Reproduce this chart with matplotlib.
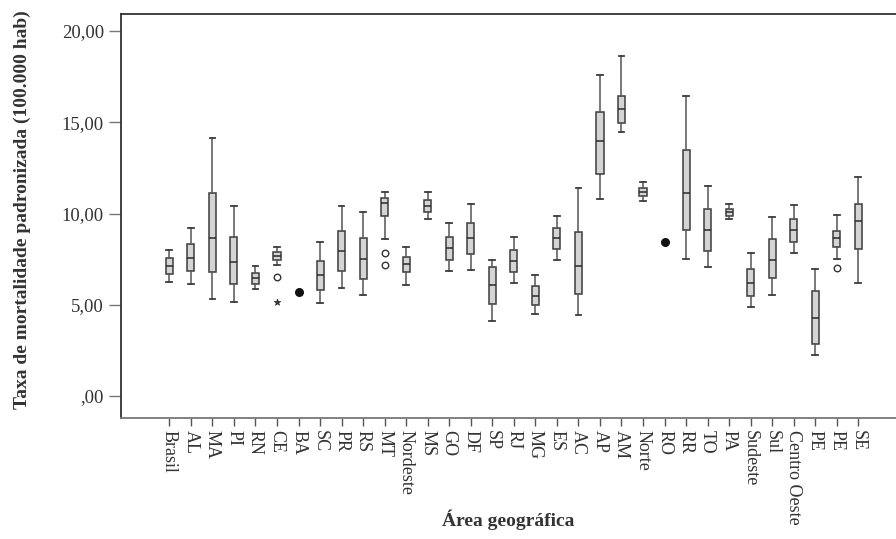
import matplotlib.pyplot as plt
import numpy as np

plt.rcParams['font.family'] = ['Liberation Serif', 'DejaVu Serif']

labels = ['Brasil', 'AL', 'MA', 'PI', 'RN', 'CE', 'BA', 'SC', 'PR', 'RS', 'MT',
          'Nordeste', 'MS', 'GO', 'DF', 'SP', 'RJ', 'MG', 'ES', 'AC', 'AP', 'AM',
          'Norte', 'RO', 'RR', 'TO', 'PA', 'Sudeste', 'Sul', 'Centro Oeste',
          'PE', 'PE', 'SE']

# box statistics (None = single value, no box)
whislo = [6.26, 6.14, 5.33, 5.17, 5.86, 7.20, None, 5.08, 5.90, 5.53, 8.59,
          6.08, 9.72, 6.83, 6.90, 4.13, 6.17, 4.47, 7.47, 4.42, 10.78, 14.45,
          10.70, None, 7.52, 7.07, 9.68, 4.88, 5.55, 7.85, 2.26, 7.49, 6.19]
q1 = [6.67, 6.83, 6.78, 6.16, 6.16, 7.43, None, 5.79, 6.83, 6.41, 9.86,
      6.78, 10.07, 7.45, 7.76, 5.02, 6.78, 4.97, 8.04, 5.61, 12.16, 14.94,
      10.94, None, 9.10, 7.96, 9.86, 5.46, 6.48, 8.46, 2.83, 8.18, 8.05]
med = [7.12, 7.58, 8.68, 7.32, 6.45, 7.67, None, 6.61, 7.95, 7.49, 10.56,
       7.21, 10.39, 8.09, 8.64, 6.06, 7.38, 5.50, 8.64, 7.12, 13.97, 15.71,
       11.18, None, 11.12, 9.08, 10.08, 6.17, 7.45, 9.10, 4.29, 8.66, 9.59]
q3 = [7.54, 8.31, 11.10, 8.70, 6.76, 7.87, None, 7.42, 9.06, 8.64, 10.83,
      7.63, 10.74, 8.71, 9.50, 7.07, 8.02, 6.01, 9.19, 8.99, 15.54, 16.42,
      11.40, None, 13.48, 10.23, 10.26, 6.98, 8.60, 9.70, 5.74, 9.06, 10.54]
whishi = [8.00, 9.19, 14.16, 10.39, 7.12, 8.16, None, 8.42, 10.39, 10.07, 11.16,
          8.14, 11.16, 9.48, 10.54, 7.45, 8.73, 6.61, 9.88, 11.40, 17.57, 18.63,
          11.71, None, 16.42, 11.51, 10.54, 7.84, 9.83, 10.45, 6.98, 9.92, 12.00]

# single values (filled dots)
single_idx = [6, 23]
single_val = [5.70, 8.44]
# outliers (open circles) and extremes (stars)
circle_idx = [5, 10, 10, 31]
circle_val = [6.50, 7.82, 7.20, 7.00]
star_idx = [5]
star_val = [5.13]

stats = []
pos = []
for i in range(len(labels)):
    if med[i] is None:
        continue
    stats.append({'whislo': whislo[i], 'q1': q1[i], 'med': med[i],
                  'q3': q3[i], 'whishi': whishi[i], 'fliers': []})
    pos.append(i)

fig = plt.figure(figsize=(8.96, 5.39), dpi=100)
ax = fig.add_axes([0.1347, 0.225, 0.8653, 0.7485])

ax.bxp(stats, positions=pos, widths=0.33, patch_artist=True, showfliers=False,
       capwidths=0.27,
       boxprops=dict(facecolor='#d4d4d4', edgecolor='#3c3c3c', linewidth=1.1),
       medianprops=dict(color='#2a2a2a', linewidth=1.1),
       whiskerprops=dict(color='#555555', linewidth=1.1),
       capprops=dict(color='#3c3c3c', linewidth=1.3))

ax.scatter(single_idx, single_val, s=30, color='#111111', zorder=3)
ax.scatter(circle_idx, circle_val, s=22, facecolor='white', edgecolor='#333333',
           linewidth=1, zorder=3)
ax.scatter(star_idx, star_val, s=25, marker='*', color='#333333', linewidth=0.5, zorder=3)

ax.set_xlim(-2.26, 33.75)
ax.set_ylim(-1.19, 20.92)
ax.set_xticks(range(len(labels)))
ax.set_xticklabels(labels, rotation=-90, fontsize=13, color='#333333')
ax.set_yticks([0, 5, 10, 15, 20])
ax.set_yticklabels([',00', '5,00', '10,00', '15,00', '20,00'], fontsize=13.5, color='#333333')
ax.tick_params(axis='y', length=9, width=1, color='#777777', pad=3)
ax.tick_params(axis='x', length=6, width=1, color='#555555', pad=3)

ax.spines['right'].set_visible(False)
ax.spines['top'].set_color('#333333')
ax.spines['left'].set_color('#333333')
ax.spines['bottom'].set_color('#777777')
for s in ['top', 'left', 'bottom']:
    ax.spines[s].set_linewidth(1.3)

ax.set_xlabel('Área geográfica', fontsize=14, fontweight='bold', color='#333333', va='center')
ax.xaxis.set_label_coords(0.4996, -0.2536)
ax.set_ylabel('Taxa de mortalidade padronizada (100.000 hab)', fontsize=14,
              fontweight='bold', color='#333333', va='center')
ax.yaxis.set_label_coords(-0.1273, 0.515)

fig.savefig('out.png', dpi=100)
